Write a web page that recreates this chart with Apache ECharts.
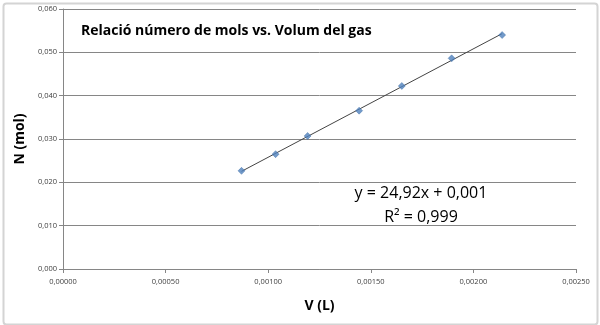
<!DOCTYPE html>
<html>
<head>
<meta charset="utf-8">
<script src="https://cdn.jsdelivr.net/npm/echarts@6/dist/echarts.min.js"></script>
<style>
html,body{margin:0;padding:0;background:#fff;}
#chart{width:600px;height:325px;}
</style>
</head>
<body>
<div id="chart"></div>
<script>
const titleText = 'Relació número de mols vs. Volum del gas';
const xAxisName = 'V (L)';
const yAxisName = 'N (mol)';
const volumeL = [0.000870, 0.001036, 0.001192, 0.001443, 0.001651, 0.001894, 0.002140];
const molesN = [0.02265, 0.0265, 0.0307, 0.03654, 0.04224, 0.04862, 0.05399];
const equationLines = ['y = 24,92x + 0,001', 'R² = 0,999'];

const points = volumeL.map((v, i) => [v, molesN[i]]);
// least squares trendline from the data
const n = volumeL.length;
const mx = volumeL.reduce((a, b) => a + b, 0) / n;
const my = molesN.reduce((a, b) => a + b, 0) / n;
let sxy = 0, sxx = 0;
for (let i = 0; i < n; i++) { sxy += (volumeL[i] - mx) * (molesN[i] - my); sxx += (volumeL[i] - mx) ** 2; }
const slope = sxy / sxx, intercept = my - slope * mx;
const xMin = Math.min(...volumeL), xMax = Math.max(...volumeL);
const trend = [[xMin, slope * xMin + intercept], [xMax, slope * xMax + intercept]];

const chart = echarts.init(document.getElementById('chart'));
const labelFont = 'Open Sans, sans-serif';
chart.setOption({
  animation: false,
  backgroundColor: '#fff',
  grid: { left: 63, right: 24, top: 9, bottom: 56, containLabel: false },
  xAxis: {
    type: 'value', min: 0, max: 0.0025, interval: 0.0005,
    name: xAxisName, nameLocation: 'middle', nameGap: 30,
    nameTextStyle: { fontFamily: labelFont, fontWeight: 'bold', fontSize: 14, color: '#000' },
    axisLine: { show: true, onZero: false, lineStyle: { color: '#868686', width: 1 } },
    axisTick: { show: true, length: 4, lineStyle: { color: '#868686' } },
    splitLine: { show: false },
    axisLabel: { fontFamily: labelFont, fontSize: 7.5, color: '#404040', margin: 9,
      formatter: v => v.toFixed(5).replace('.', ',') }
  },
  yAxis: {
    type: 'value', min: 0, max: 0.06, interval: 0.01,
    name: yAxisName, nameLocation: 'middle', nameGap: 33, nameRotate: 90,
    nameTextStyle: { fontFamily: labelFont, fontWeight: 'bold', fontSize: 14, color: '#000' },
    axisLine: { show: true, lineStyle: { color: '#868686', width: 1 } },
    axisTick: { show: true, length: 4, lineStyle: { color: '#868686' } },
    splitLine: { show: true, lineStyle: { color: '#868686', width: 1 } },
    axisLabel: { fontFamily: labelFont, fontSize: 7.5, color: '#404040', margin: 6,
      formatter: v => v.toFixed(3).replace('.', ',') }
  },
  series: [
    {
      type: 'line', data: trend, symbol: 'none', silent: true,
      lineStyle: { color: '#444', width: 1 }, z: 2
    },
    {
      type: 'scatter', data: points, symbol: 'diamond', symbolSize: 7,
      itemStyle: { color: '#4F81BD', borderColor: '#3a6aa3', borderWidth: 0.5 }, z: 3
    }
  ],
  graphic: [
    { type: 'rect', left: 1, top: 1, shape: { width: 594, height: 321, r: 3 },
      style: { fill: 'none', stroke: '#d4d4d4', lineWidth: 2 }, silent: true },
    { type: 'text', left: 81, top: 24,
      style: { text: titleText, fontFamily: labelFont, fontWeight: 'bold', fontSize: 14, fill: '#000' } },
    { type: 'text', x: 421, y: 193,
      style: { text: equationLines[0], fontFamily: labelFont, fontSize: 16, fill: '#000', align: 'center', verticalAlign: 'middle' } },
    { type: 'text', x: 421, y: 217,
      style: { text: equationLines[1], fontFamily: labelFont, fontSize: 16, fill: '#000', align: 'center', verticalAlign: 'middle' } }
  ]
});
</script>
</body>
</html>
